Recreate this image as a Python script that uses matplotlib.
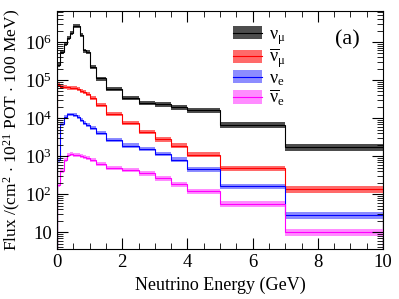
import numpy as np
import matplotlib
matplotlib.use("Agg")
import matplotlib.pyplot as plt
from matplotlib.patches import Patch
from matplotlib.lines import Line2D
from matplotlib.ticker import MultipleLocator, LogLocator, FixedLocator, FixedFormatter

plt.rcParams['font.family'] = 'Liberation Serif'
plt.rcParams['mathtext.fontset'] = 'custom'
plt.rcParams['mathtext.rm'] = 'Liberation Serif'
plt.rcParams['mathtext.it'] = 'Liberation Serif'

# bin edges (GeV)
edges = [0.0, 0.1, 0.2, 0.3, 0.4, 0.5, 0.6, 0.7, 0.8, 0.9, 1.0,
         1.2, 1.5, 2.0, 2.5, 3.0, 3.5, 4.0, 5.0, 7.0, 10.0]

# flux per bin
numu = [2.5e5, 5.5e5, 9.0e5, 1.3e6, 1.7e6, 2.6e6, 2.6e6, 1.5e6, 6.0e5, 5.5e5,
        2.2e5, 1.1e5, 5.8e4, 3.4e4, 2.5e4, 2.3e4, 1.95e4, 1.6e4, 6.6e3, 1.7e3]
numubar = [7.6e4, 6.6e4, 6.5e4, 6.4e4, 6.3e4, 6.2e4, 5.8e4, 5.2e4, 4.8e4, 4.2e4,
           3.3e4, 2.2e4, 1.27e4, 7.4e3, 4.3e3, 2.8e3, 1.9e3, 1.1e3, 480, 135]
nue = [800, 7.0e3, 1.05e4, 1.25e4, 1.25e4, 1.2e4, 1.05e4, 9.0e3, 7.5e3, 6.5e3,
       5.5e3, 4.1e3, 2.7e3, 1.9e3, 1.55e3, 1.15e3, 810, 450, 162, 28]
nuebar = [170, 400, 800, 1.05e3, 1.15e3, 1.1e3, 1.05e3, 1.0e3, 950, 900,
          800, 630, 500, 440, 350, 265, 180, 120, 55, 10]

# relative uncertainty per bin
err = [0.12] * 10 + [0.12, 0.12, 0.12, 0.13, 0.13, 0.14, 0.15, 0.16, 0.17, 0.2]

names = [r'$\nu_{\mu}$', r'$\overline{\nu}_{\mu}$', r'$\nu_{e}$', r'$\overline{\nu}_{e}$']
line_cols = ['black', 'red', 'blue', 'magenta']
band_cols = ['#3a3a3a', '#ff5a5a', '#8080ff', '#ff80ff']

fig = plt.figure(figsize=(3.99, 2.99), dpi=100)
ax = fig.add_axes([0.143, 0.167, 0.817, 0.796])

err = np.array(err)
handles = []
for flux, lc, bc in zip([numu, numubar, nue, nuebar], line_cols, band_cols):
    flux = np.array(flux)
    ax.stairs(flux * (1 + err), edges, baseline=flux * (1 - err), fill=True,
              color=bc, alpha=0.9, lw=0)
    ax.stairs(flux, edges, color=lc, lw=0.8)
    handles.append((Patch(facecolor=bc, alpha=0.9), Line2D([], [], color=lc, lw=0.8)))

ax.set_yscale('log')
ax.set_xlim(0, 10)
ax.set_ylim(3.6, 6.5e6)

ax.xaxis.set_major_locator(MultipleLocator(2))
ax.xaxis.set_minor_locator(MultipleLocator(0.5))
ax.yaxis.set_major_locator(FixedLocator([10, 1e2, 1e3, 1e4, 1e5, 1e6]))
ax.yaxis.set_major_formatter(FixedFormatter(['10', r'$10^{2}$', r'$10^{3}$',
                                             r'$10^{4}$', r'$10^{5}$', r'$10^{6}$']))
ax.yaxis.set_minor_locator(LogLocator(base=10, subs=np.arange(2, 10)))
ax.yaxis.set_minor_formatter(plt.NullFormatter())
ax.tick_params(which='both', direction='in', top=True, right=True, labelsize=13.5)
ax.tick_params(which='major', length=8)
ax.tick_params(which='minor', length=4)

ax.set_xlabel('Neutrino Energy (GeV)', fontsize=13)
ax.set_ylabel(r'Flux /(cm$^{2}$ $\cdot$ 10$^{21}$ POT $\cdot$ 100 MeV)', fontsize=12.5,
              labelpad=1)

ax.legend(handles, names, loc='upper left', bbox_to_anchor=(0.5, 0.99),
          frameon=False, fontsize=13, handlelength=1.6, handleheight=0.75,
          labelspacing=0.0, handletextpad=0.4, borderpad=0.2)
ax.text(0.93, 0.88, '(a)', transform=ax.transAxes, fontsize=16, ha='right', va='center')

fig.savefig('out.png', dpi=100)
